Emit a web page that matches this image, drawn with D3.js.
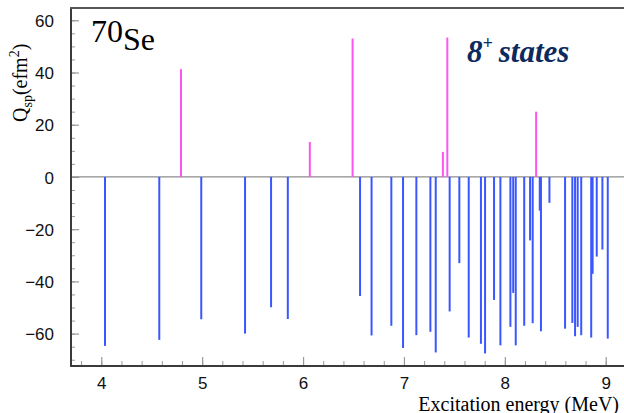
<!DOCTYPE html>
<html><head><meta charset="utf-8">
<script src="https://cdn.jsdelivr.net/npm/d3@7"></script>
<style>body{margin:0;background:#fff;overflow:hidden}</style>
</head><body>
<svg id="c" width="624" height="413"></svg>
<script>
// ---- data ----
const posEnergy = [4.790, 6.067, 6.491, 7.386, 7.430, 8.310];
const posQ      = [41.3, 13.4, 53.0, 9.6, 53.4, 25.0];
const negEnergy = [4.037, 4.575, 4.991, 5.425, 5.683, 5.849, 6.565, 6.679, 6.875, 6.991,
                   7.123, 7.262, 7.315, 7.453, 7.549, 7.642, 7.763, 7.804, 7.893, 7.956,
                   8.055, 8.083, 8.108, 8.192, 8.250, 8.276, 8.346, 8.358, 8.442, 8.597,
                   8.669, 8.696, 8.722, 8.757, 8.856, 8.870, 8.911, 8.967, 9.020];
const negQ      = [-64.7, -62.4, -54.5, -60.0, -49.9, -54.4, -45.6, -60.7, -57.0, -65.5,
                   -60.6, -59.3, -67.2, -51.5, -33.0, -61.5, -63.9, -67.6, -47.1, -64.5,
                   -57.4, -44.4, -64.5, -57.0, -24.3, -56.0, -12.9, -59.1, -9.9, -58.1,
                   -55.9, -61.0, -57.4, -60.6, -61.5, -37.1, -30.5, -27.8, -61.9];
const xTickValues = [4, 5, 6, 7, 8, 9];
const yTickValues = [-60, -40, -20, 0, 20, 40, 60];

// ---- layout ----
const L = 71, T = 8, B = 366, R = 636;
const svg = d3.select('#c');
const x = d3.scaleLinear().domain([3.7, 9.3]).range([L, R]);
const y = d3.scaleLinear().domain([-72.4, 64.7]).range([B, T]);

const gray = '#9a9a9a';

// minor ticks
const xMinor = d3.range(3.8, 9.31, 0.2).map(v => +v.toFixed(2));
const yMinor = d3.range(-70, 64, 5);

const gxm = svg.append('g').attr('transform', `translate(0,${B})`)
  .call(d3.axisBottom(x).tickValues(xMinor).tickSize(-5).tickFormat(''));
const gym = svg.append('g').attr('transform', `translate(${L},0)`)
  .call(d3.axisLeft(y).tickValues(yMinor).tickSize(-4).tickFormat(''));
[gxm, gym].forEach(g => { g.select('.domain').remove(); g.selectAll('line').attr('stroke', gray).attr('stroke-width', 1); });

const gx = svg.append('g').attr('transform', `translate(0,${B})`)
  .call(d3.axisBottom(x).tickValues(xTickValues).tickSize(-9).tickPadding(11).tickFormat(d3.format('d')));
const gy = svg.append('g').attr('transform', `translate(${L},0)`)
  .call(d3.axisLeft(y).tickValues(yTickValues).tickSize(-8).tickPadding(17).tickFormat(d3.format('d')));
[gx, gy].forEach(g => {
  g.select('.domain').remove();
  g.selectAll('line').attr('stroke', gray).attr('stroke-width', 1.2);
  g.selectAll('text').attr('font-family', 'Liberation Sans, Arial, sans-serif').attr('font-size', 17).attr('fill', '#111');
});
gy.selectAll('text').attr('dy', '0.36em');

// zero line
svg.append('line').attr('x1', L).attr('x2', 624).attr('y1', y(0)).attr('y2', y(0))
  .attr('stroke', '#8c8c8c').attr('stroke-width', 1.3);

// bars
svg.append('g').selectAll('line').data(negEnergy).join('line')
  .attr('x1', d => x(d)).attr('x2', d => x(d))
  .attr('y1', y(0)).attr('y2', (d, i) => y(negQ[i]))
  .attr('stroke', '#3a57ff').attr('stroke-width', 2);
svg.append('g').selectAll('line').data(posEnergy).join('line')
  .attr('x1', d => x(d)).attr('x2', d => x(d))
  .attr('y1', y(0)).attr('y2', (d, i) => y(posQ[i]))
  .attr('stroke', '#ff55ee').attr('stroke-width', 2);

// frame
const frameC = '#3a3a3a';
svg.append('line').attr('x1', L).attr('x2', L).attr('y1', T).attr('y2', B + 1).attr('stroke', frameC).attr('stroke-width', 2);
svg.append('line').attr('x1', L - 1).attr('x2', 624).attr('y1', B).attr('y2', B).attr('stroke', frameC).attr('stroke-width', 2);
svg.append('line').attr('x1', L - 1).attr('x2', 624).attr('y1', T).attr('y2', T).attr('stroke', '#555').attr('stroke-width', 2);

// texts
const serif = 'Liberation Serif, Times New Roman, serif';
const t1 = svg.append('text').attr('x', 91).attr('y', 42).attr('font-family', serif).attr('font-size', 32).attr('fill', '#000');
t1.append('tspan').text('70');
t1.append('tspan').attr('dy', 8).text('Se');

const t2 = svg.append('text').attr('x', 467).attr('y', 62).attr('font-family', serif)
  .attr('font-size', 31).attr('font-weight', 'bold').attr('font-style', 'italic').attr('fill', '#0c2a5e');
t2.append('tspan').text('8');
t2.append('tspan').attr('dy', -13).attr('font-size', 18).text('+');
t2.append('tspan').attr('dy', 13).attr('dx', 6).text('states');

const t3 = svg.append('text').attr('transform', 'translate(27,122) rotate(-90)').attr('font-family', serif)
  .attr('font-size', 20).attr('fill', '#000');
t3.append('tspan').text('Q');
t3.append('tspan').attr('dy', 5).attr('font-size', 14).text('sp');
t3.append('tspan').attr('dy', -5).text('(efm');
t3.append('tspan').attr('dy', -8).attr('font-size', 14).text('2');
t3.append('tspan').attr('dy', 8).text(')');

svg.append('text').attr('x', 619).attr('y', 410.5).attr('text-anchor', 'end').attr('font-family', serif)
  .attr('font-size', 20).attr('fill', '#000').text('Excitation energy (MeV)');
</script>
</body></html>
